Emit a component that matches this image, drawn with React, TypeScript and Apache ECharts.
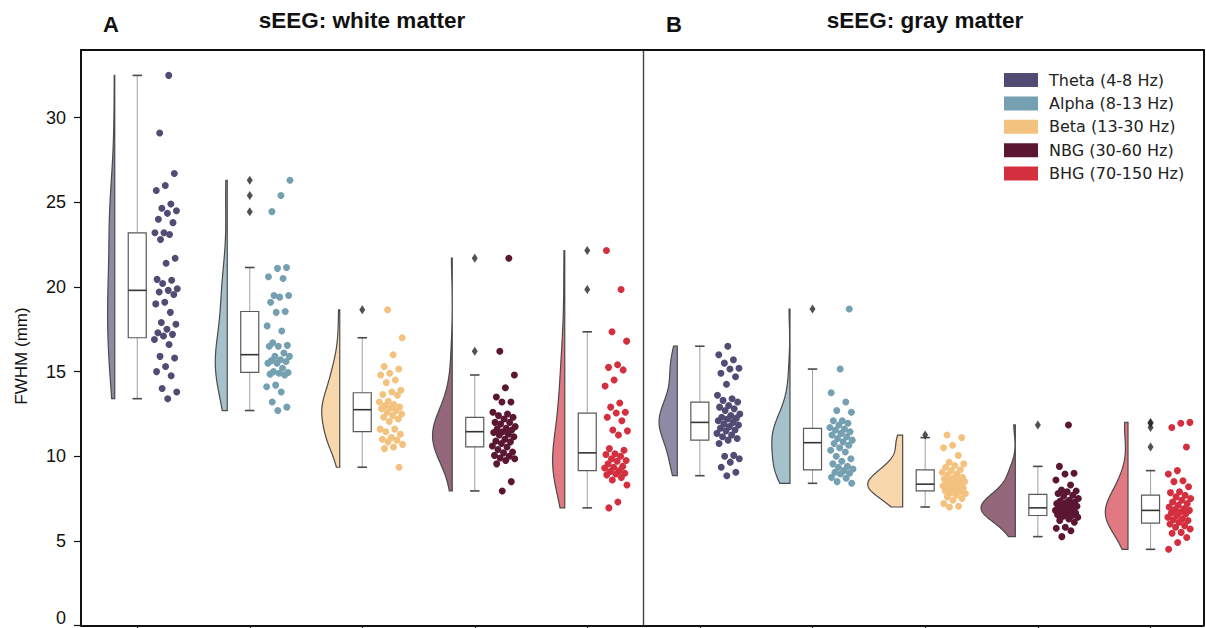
import React, { useEffect, useRef } from 'react';
import * as echarts from 'echarts';

const bands = ['Theta (4-8 Hz)', 'Alpha (8-13 Hz)', 'Beta (13-30 Hz)', 'NBG (30-60 Hz)', 'BHG (70-150 Hz)'];
const bandColors = ['#524b74', '#74a0b1', '#f4c27f', '#5b1632', '#d32f3e'];
const yTicks = [0, 5, 10, 15, 20, 25, 30];
const catTicks = [0, 1, 2, 3, 4];

// Panel A: white matter
const thetaWhite = [32.5, 29.1, 26.7, 26.0, 25.7, 24.9, 24.65, 24.5, 24.35, 24.0, 23.8, 23.2, 23.2, 23.1, 22.8, 21.7, 21.4, 20.45, 20.4, 20.2, 19.9, 19.8, 19.7, 19.55, 19.1, 19.0, 18.5, 17.9, 17.8, 17.5, 17.3, 17.2, 17.1, 16.9, 16.6, 15.9, 15.8, 15.3, 15.0, 14.75, 14.0, 13.8, 13.4];
const alphaWhite = [26.3, 25.4, 24.45, 21.15, 21.1, 20.6, 20.5, 19.5, 19.5, 19.4, 19.1, 18.55, 18.5, 17.7, 17.4, 16.7, 16.55, 16.5, 16.5, 16.1, 15.9, 15.9, 15.7, 15.65, 15.6, 15.5, 15.5, 15.2, 15.0, 14.95, 14.9, 14.85, 14.8, 14.2, 14.1, 13.8, 13.2, 12.9, 12.7];
const betaWhite = [18.65, 17.0, 16.0, 15.3, 15.15, 14.9, 14.8, 14.5, 14.35, 13.9, 13.8, 13.65, 13.6, 13.25, 13.2, 13.05, 13.0, 12.9, 12.85, 12.8, 12.7, 12.6, 12.5, 12.4, 12.3, 12.2, 12.05, 11.6, 11.6, 11.45, 11.3, 11.1, 11.0, 10.95, 10.85, 10.7, 10.55, 10.45, 9.35];
const nbgWhite = [21.7, 16.2, 14.8, 14.05, 13.5, 13.2, 13.2, 12.6, 12.5, 12.4, 12.3, 12.2, 12.0, 12.0, 11.9, 11.75, 11.65, 11.6, 11.55, 11.45, 11.4, 11.3, 11.25, 11.15, 11.0, 10.9, 10.85, 10.75, 10.6, 10.55, 10.4, 10.25, 10.2, 10.05, 10.0, 9.9, 9.85, 9.75, 9.55, 8.5, 7.95];
const bhgWhite = [22.15, 19.85, 17.35, 16.8, 15.4, 15.25, 15.1, 14.5, 14.15, 13.15, 12.9, 12.6, 12.55, 12.3, 12.1, 11.55, 11.5, 11.25, 10.45, 10.35, 10.15, 10.1, 10.0, 9.85, 9.75, 9.7, 9.55, 9.4, 9.35, 9.3, 9.15, 9.1, 9.0, 8.95, 8.9, 8.75, 8.6, 8.3, 7.3, 6.95];

// Panel B: gray matter
const thetaGray = [16.5, 16.0, 15.7, 15.5, 15.2, 15.15, 14.9, 14.7, 14.25, 13.6, 13.4, 13.3, 13.2, 13.0, 12.9, 12.8, 12.7, 12.5, 12.4, 12.3, 12.25, 12.2, 12.1, 12.0, 11.9, 11.85, 11.75, 11.65, 11.55, 11.5, 11.35, 11.25, 11.15, 11.05, 10.95, 10.75, 10.05, 10.0, 9.85, 9.65, 9.35, 9.05, 8.85];
const alphaGray = [18.7, 15.15, 13.75, 13.2, 12.7, 12.6, 12.1, 12.1, 11.95, 11.85, 11.7, 11.6, 11.55, 11.45, 11.35, 11.25, 11.15, 11.05, 10.95, 10.85, 10.75, 10.65, 10.5, 10.35, 10.25, 10.0, 9.85, 9.7, 9.55, 9.4, 9.35, 9.25, 9.15, 9.05, 9.0, 8.95, 8.75, 8.7, 8.5, 8.4];
const betaGray = [11.25, 11.1, 10.65, 10.5, 10.05, 9.65, 9.55, 9.45, 9.35, 9.2, 9.15, 9.05, 8.95, 8.9, 8.75, 8.7, 8.65, 8.6, 8.55, 8.5, 8.45, 8.4, 8.35, 8.3, 8.25, 8.2, 8.15, 8.1, 8.0, 7.95, 7.9, 7.85, 7.8, 7.7, 7.6, 7.5, 7.4, 7.2, 7.05, 7.0];
const nbgGray = [11.85, 9.4, 9.0, 8.95, 8.6, 8.3, 8.0, 7.95, 7.9, 7.8, 7.7, 7.65, 7.5, 7.4, 7.35, 7.3, 7.25, 7.2, 7.15, 7.1, 7.05, 7.0, 6.95, 6.9, 6.85, 6.8, 6.75, 6.7, 6.65, 6.6, 6.55, 6.5, 6.45, 6.4, 6.3, 6.2, 6.1, 5.8, 5.75, 5.6, 5.25];
const bhgGray = [12.0, 11.95, 11.7, 10.55, 9.15, 8.95, 8.55, 8.5, 8.2, 7.9, 7.85, 7.7, 7.6, 7.5, 7.4, 7.3, 7.2, 7.1, 7.0, 6.9, 6.85, 6.8, 6.7, 6.65, 6.6, 6.5, 6.4, 6.3, 6.25, 6.2, 6.1, 6.0, 5.9, 5.8, 5.7, 5.5, 5.45, 5.2, 4.9, 4.5];

// Box statistics: [lower whisker, Q1, median, Q3, upper whisker]
const boxWhite = [
  [13.4, 17.0, 19.8, 23.2, 32.5],
  [12.7, 14.95, 16.0, 18.55, 21.15],
  [9.35, 11.45, 12.75, 13.75, 17.0],
  [7.95, 10.55, 11.45, 12.3, 14.8],
  [6.95, 9.15, 10.2, 12.55, 17.35],
];
const outliersWhite = [[], [26.3, 25.4, 24.45], [18.65], [21.7, 16.2], [22.15, 19.85]];
const boxGray = [
  [8.85, 10.95, 12.0, 13.2, 16.5],
  [8.4, 9.2, 10.8, 11.65, 15.15],
  [7.0, 7.95, 8.35, 9.2, 11.1],
  [5.25, 6.5, 6.95, 7.75, 9.4],
  [4.5, 6.05, 6.8, 7.7, 9.15],
];
const outliersGray = [[], [18.7], [11.25], [11.85], [12.0, 11.95, 11.7, 10.55]];

const whiteGroups = [thetaWhite, alphaWhite, betaWhite, nbgWhite, bhgWhite];
const grayGroups = [thetaGray, alphaGray, betaGray, nbgGray, bhgGray];

function hexToRgba(hex: string, a: number) {
  const n = parseInt(hex.slice(1), 16);
  return `rgba(${(n >> 16) & 255},${(n >> 8) & 255},${n & 255},${a})`;
}

function kde(values: number[], steps = 120) {
  const n = values.length;
  const mean = values.reduce((s, v) => s + v, 0) / n;
  const sd = Math.sqrt(values.reduce((s, v) => s + (v - mean) * (v - mean), 0) / (n - 1));
  const bw = sd * Math.pow(n, -0.2);
  const lo = Math.min(...values);
  const hi = Math.max(...values);
  const out: [number, number][] = [];
  for (let s = 0; s <= steps; s++) {
    const y = lo + ((hi - lo) * s) / steps;
    let d = 0;
    for (const v of values) {
      const z = (y - v) / bw;
      d += Math.exp(-0.5 * z * z);
    }
    out.push([y, d / (n * bw * Math.sqrt(2 * Math.PI))]);
  }
  return out;
}

export default function App() {
  const ref = useRef<HTMLDivElement>(null);
  useEffect(() => {
    document.body.style.margin = '0';
    const chart = echarts.init(ref.current!, null, { renderer: 'svg' });

    const profilesW = whiteGroups.map((g) => kde(g));
    const profilesG = grayGroups.map((g) => kde(g));
    let maxD = 0;
    [...profilesW, ...profilesG].forEach((p) => p.forEach(([, d]) => { if (d > maxD) maxD = d; }));
    const halfWidth = 0.31;
    const flatOffset = 0.2;

    const jitter = (k: number, g: number) => {
      const u = ((k + 1) * 0.6180339887 + g * 0.37) % 1;
      return 0.255 + (u * 2 - 1) * 0.105;
    };

    const makePanel = (groups: number[][], profiles: [number, number][][], boxes: number[][], outs: number[][], xIdx: number, yIdx: number, panel: number) => {
      const series: any[] = [];
      series.push({
        type: 'custom',
        xAxisIndex: xIdx,
        yAxisIndex: yIdx,
        silent: true,
        data: groups.map((_, i) => [i]),
        renderItem: (params: any, api: any) => {
          const i = params.dataIndex;
          const prof = profiles[i];
          const pts: number[][] = [];
          for (let s = 0; s < prof.length; s++) pts.push(api.coord([i - flatOffset, prof[s][0]]));
          for (let s = prof.length - 1; s >= 0; s--) {
            const w = (prof[s][1] / maxD) * halfWidth;
            pts.push(api.coord([i - flatOffset - w, prof[s][0]]));
          }
          return {
            type: 'polygon',
            shape: { points: pts },
            style: { fill: hexToRgba(bandColors[i], 0.65), stroke: '#4a4a4a', lineWidth: 1.2 },
          };
        },
      });
      series.push({
        type: 'custom',
        xAxisIndex: xIdx,
        yAxisIndex: yIdx,
        silent: true,
        data: boxes.map((b, i) => [i, ...b]),
        renderItem: (params: any, api: any) => {
          const i = params.dataIndex;
          const [lo, q1, med, q3, hi] = boxes[i];
          const bw = 0.08;
          const cw = 0.042;
          const tl = api.coord([i - bw, q3]);
          const br = api.coord([i + bw, q1]);
          const line = (x1: number, y1: number, x2: number, y2: number, stroke: string, lw: number) => {
            const a = api.coord([x1, y1]);
            const b = api.coord([x2, y2]);
            return { type: 'line', shape: { x1: a[0], y1: a[1], x2: b[0], y2: b[1] }, style: { stroke, lineWidth: lw } };
          };
          return {
            type: 'group',
            children: [
              line(i, hi, i, q3, '#a8a8a8', 1.1),
              line(i, lo, i, q1, '#a8a8a8', 1.1),
              line(i - cw, hi, i + cw, hi, '#4a4a4a', 1.6),
              line(i - cw, lo, i + cw, lo, '#4a4a4a', 1.6),
              {
                type: 'rect',
                shape: { x: tl[0], y: tl[1], width: br[0] - tl[0], height: br[1] - tl[1] },
                style: { fill: '#ffffff', stroke: '#5a5a5a', lineWidth: 1.2 },
              },
              line(i - bw, med, i + bw, med, '#333333', 1.6),
            ],
          };
        },
      });
      series.push({
        type: 'scatter',
        xAxisIndex: xIdx,
        yAxisIndex: yIdx,
        silent: true,
        symbol: 'diamond',
        symbolSize: [6, 9],
        itemStyle: { color: '#262626' },
        data: outs.flatMap((o, i) => o.map((v) => [i, v])),
      });
      groups.forEach((vals, i) => {
        series.push({
          type: 'scatter',
          name: bands[i],
          xAxisIndex: xIdx,
          yAxisIndex: yIdx,
          silent: true,
          symbolSize: 7,
          itemStyle: { color: bandColors[i], opacity: 1 },
          data: vals.map((v, k) => [i + jitter(k, i + panel * 5), v]),
        });
      });
      return series;
    };

    const frame = { color: '#111111', width: 2 };
    const xBase = (gridIndex: number, max: number, position: string, ticks: boolean) => ({
      type: 'value',
      gridIndex,
      min: -0.5,
      max,
      position,
      axisLine: { show: true, onZero: false, lineStyle: frame },
      axisTick: ticks ? { show: true, customValues: catTicks, length: 5, lineStyle: { color: '#111', width: 1.2 } } : { show: false },
      axisLabel: { show: false },
      splitLine: { show: false },
    });

    const option: any = {
      animation: false,
      backgroundColor: '#ffffff',
      grid: [
        { left: 81, right: 562.5, top: 50, bottom: 2.5, containLabel: false, outerBoundsMode: 'none' },
        { left: 643.5, right: 2.5, top: 50, bottom: 2.5, containLabel: false, outerBoundsMode: 'none' },
      ],
      xAxis: [
        xBase(0, 4.5, 'bottom', true),
        xBase(0, 4.5, 'top', false),
        xBase(1, 4.47, 'bottom', true),
        xBase(1, 4.47, 'top', false),
      ],
      yAxis: [
        {
          type: 'value', gridIndex: 0, min: 0, max: 34, position: 'left',
          axisLine: { show: true, onZero: false, lineStyle: frame },
          axisTick: { show: true, customValues: yTicks, length: 7, lineStyle: { color: '#111', width: 1.2 } },
          axisLabel: {
            customValues: yTicks, fontSize: 18, fontFamily: 'Liberation Sans', color: '#111', margin: 15,
            formatter: (v: number) => (v === 0 ? '{z|0}' : String(v)),
            rich: { z: { fontSize: 18, fontFamily: 'Liberation Sans', color: '#111', padding: [0, 0, 16, 0] } },
          },
          splitLine: { show: false },
        },
        {
          type: 'value', gridIndex: 0, min: 0, max: 34, position: 'right',
          axisLine: { show: true, onZero: false, lineStyle: { color: '#444', width: 1.4 } },
          axisTick: { show: false }, axisLabel: { show: false }, splitLine: { show: false },
        },
        {
          type: 'value', gridIndex: 1, min: 0, max: 34, position: 'right',
          axisLine: { show: true, onZero: false, lineStyle: frame },
          axisTick: { show: false }, axisLabel: { show: false }, splitLine: { show: false },
        },
      ],
      legend: {
        orient: 'vertical',
        left: 1004,
        top: 72,
        padding: 0,
        itemWidth: 34,
        itemHeight: 14,
        itemGap: 7.4,
        selectedMode: false,
        textStyle: { fontFamily: 'DejaVu Sans', fontSize: 16, color: '#222', padding: [0, 0, 0, 6] },
        data: bands.map((name, i) => ({ name, icon: 'rect', itemStyle: { color: bandColors[i] } })),
      },
      graphic: [
        { type: 'text', x: 111, y: 24, style: { text: 'A', textAlign: 'center', textVerticalAlign: 'middle', fontSize: 22, fontWeight: 'bold', fontFamily: 'Liberation Sans', fill: '#111' } },
        { type: 'text', x: 362, y: 20, style: { text: 'sEEG: white matter', textAlign: 'center', textVerticalAlign: 'middle', fontSize: 22.5, fontWeight: 'bold', fontFamily: 'Liberation Sans', fill: '#111' } },
        { type: 'text', x: 674, y: 24, style: { text: 'B', textAlign: 'center', textVerticalAlign: 'middle', fontSize: 22, fontWeight: 'bold', fontFamily: 'Liberation Sans', fill: '#111' } },
        { type: 'text', x: 925, y: 20, style: { text: 'sEEG: gray matter', textAlign: 'center', textVerticalAlign: 'middle', fontSize: 22.5, fontWeight: 'bold', fontFamily: 'Liberation Sans', fill: '#111' } },
        { type: 'text', x: 21, y: 356, rotation: Math.PI / 2, style: { text: 'FWHM (mm)', textAlign: 'center', textVerticalAlign: 'middle', fontSize: 17, fontFamily: 'Liberation Sans', fill: '#111' } },
      ],
      series: [
        ...makePanel(whiteGroups, profilesW, boxWhite, outliersWhite, 0, 0, 0),
        ...makePanel(grayGroups, profilesG, boxGray, outliersGray, 2, 2, 1),
      ],
    };

    chart.setOption(option);
    return () => chart.dispose();
  }, []);
  return <div ref={ref} style={{ width: 1206, height: 628 }} />;
}
